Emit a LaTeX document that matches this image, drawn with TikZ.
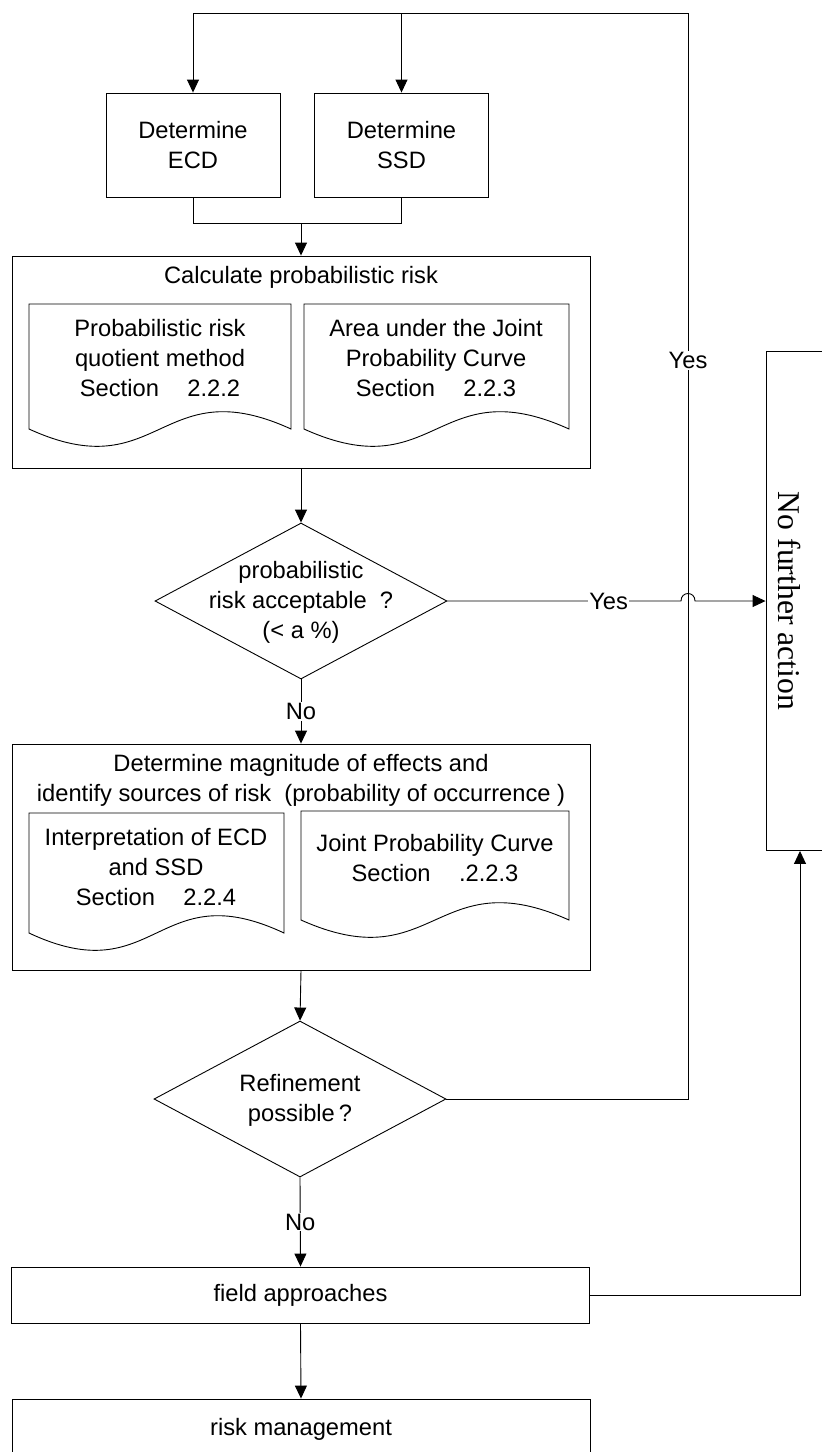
\documentclass[tikz,border=0pt]{standalone}
\usepackage{fontspec}
\setmainfont{Liberation Sans}
\newfontfamily\timesfont{Liberation Serif}
\usetikzlibrary{shapes.geometric,arrows.meta}

\tikzset{
  line/.style={line width=0.9pt},
  block/.style={draw, line width=0.9pt},
  bigbox/.style={block, minimum width=578pt},
  decision/.style={draw, diamond, line width=0.9pt, minimum width=292pt, minimum height=156pt, inner sep=0pt},
  flow/.style={line width=0.9pt, -{Triangle[length=13pt,width=12pt]}},
  answer/.style={fill=white, inner sep=1pt},
}

\begin{document}
\begin{tikzpicture}[x=1pt, y=-1pt, font=\fontsize{23.7}{30}\selectfont, align=center]
    \useasboundingbox (0,0) rectangle (822,1452);

    % Determine ECD / SSD
    \node[block, minimum width=174pt, minimum height=104pt] (ecd) at (193,145) {Determine\\ECD};
    \node[block, minimum width=174pt, minimum height=104pt] (ssd) at (401.5,145) {Determine\\SSD};

    % Calculate probabilistic risk
    \node[bigbox, minimum height=212pt] (calc) at (301,362) {};
    \node (calctitle) at (301,277) {Calculate probabilistic risk};
    \node (quot) at (160,358) {Probabilistic risk\\quotient method\\Section\hspace{1.2em}2.2.2};
    \node (area) at (436,358) {Area under the Joint\\Probability Curve\\Section\hspace{1.2em}2.2.3};

    % probabilistic risk acceptable?
    \node[decision] (acc) at (301,601) {};
    \node (acctext) at (301,602) {probabilistic\\risk acceptable\ \ ?\\(< a \%)};

    % Determine magnitude of effects
    \node[bigbox, minimum height=226pt] (mag) at (301,857) {};
    \node (magtitle) at (301,780) {Determine magnitude of effects and\\identify sources of risk\ \ (probability of occurrence\ )};
    \node (interp) at (156,867) {Interpretation of ECD\\and SSD\\Section\hspace{1.2em}2.2.4};
    \node (jointpc) at (435,858) {Joint Probability Curve\\Section\hspace{1.2em}.2.2.3};

    % document outlines
    \foreach \xa/\ya/\xb/\yb in {29/304/291/429, 304/304/569/429, 29/813/284/933, 301/811/569/920} {
        \draw[line] (\xa,\ya) -- (\xb,\ya) -- (\xb,\yb) .. controls ({(\xa+\xb)/2},\yb-60) and ({(\xa+\xb)/2},\yb+60) .. (\xa,\yb) -- cycle;
    }

    % Refinement possible?
    \node[decision] (refine) at (300,1099) {};
    \node (refinetext) at (300,1100) {Refinement\\possible\,?};

    % field approaches and risk management
    \node[bigbox, minimum height=56pt] (field) at (300.5,1295) {field approaches};
    \node[bigbox, minimum height=60pt] (riskman) at (301,1429) {risk management};

    % No further action
    \node[block, minimum width=68pt, minimum height=499pt] (nofa) at (800,601) {};
    \node[font=\timesfont\fontsize{31.7}{36}\selectfont, rotate=-90] (nofatext) at (789,601) {No further action};

    % Connections
    \coordinate (merge) at (301,223);
    \coordinate (loop) at (688,13);
    \coordinate (hop) at (loop |- acc.east);
    \draw[line] (ecd.south) |- (merge);
    \draw[line] (ssd.south) |- (merge);
    \draw[flow] (merge) -- (calc.north);
    \draw[flow] (calc.south) -- (acc.north);
    \draw[flow] (acc.south) -- node[answer] {No} (mag.north);
    \draw[flow] (mag.south) -- (refine.north);
    \draw[flow] (refine.south) -- node[answer] {No} (field.north);
    \draw[flow] (field.south) -- (riskman.north);

    % Yes branches
    \draw[flow] (acc.east) -- node[answer, pos=0.69] {Yes} ([xshift=-7pt]hop)
        .. controls ([xshift=-7pt,yshift=10pt]hop) and ([xshift=7pt,yshift=10pt]hop) .. ([xshift=7pt]hop) -- (nofa.west);
    \draw[line] (refine.east) -| node[answer, pos=0.84] {Yes} (loop);
    \draw[flow] (loop) -| (ecd.north);
    \draw[flow] (loop -| ssd.north) -- (ssd.north);
    \draw[flow] (field.east) -| (nofa.south);

\end{tikzpicture}
\end{document}
